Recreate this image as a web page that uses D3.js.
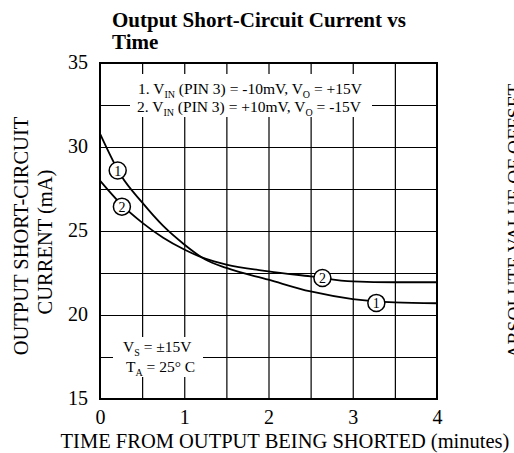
<!DOCTYPE html>
<html>
<head>
<meta charset="utf-8">
<script src="https://cdn.jsdelivr.net/npm/d3@7"></script>
<style>
    body { margin: 0; background: #fff; }
    text { font-family: "Liberation Serif", "Times New Roman", serif; fill: #000; }
</style>
</head>
<body>
<div id="canvas"></div>
<script>
"use strict"

/* Chart data */
let timeMinutes = [0, 0.25, 0.5, 0.75, 1, 1.25, 1.5, 2, 2.5, 3, 3.5, 4];
let currentCurve1 = [30.8, 28.3, 26.7, 25.3, 24.2, 23.3, 22.8, 22.1, 21.4, 20.95, 20.75, 20.7];
let currentCurve2 = [28.0, 26.6, 25.5, 24.6, 23.9, 23.35, 23.0, 22.6, 22.3, 22.0, 21.95, 21.95];

let xTickLabels = [0, 1, 2, 3, 4];
let yTickLabels = [15, 20, 25, 30, 35];
let xGridValues = [0.5, 1, 1.5, 2, 2.5, 3, 3.5];
let yGridValues = [17.5, 20, 22.5, 25, 27.5, 30, 32.5];

let markerNames = ["1", "1", "2", "2"];
let markerTimes = [0.21, 3.28, 0.26, 2.64];
let markerValues = [28.6, 20.72, 26.45, 22.2];

/* Drawing config */
let svgWidth = 514;
let svgHeight = 453;
let plotLeft = 100, plotRight = 437, plotTop = 63, plotBottom = 399;

let svg = d3.select("#canvas")
    .append("svg")
    .attr("width", svgWidth)
    .attr("height", svgHeight);

let xScale = d3.scaleLinear()
    .domain([0, 4])
    .range([plotLeft, plotRight]);

let yScale = d3.scaleLinear()
    .domain([15, 35])
    .range([plotBottom, plotTop]);

/* grid */
svg.append("g")
    .attr("transform", "translate(0," + plotBottom + ")")
    .call(d3.axisBottom(xScale).tickValues(xGridValues).tickSize(-(plotBottom - plotTop)).tickFormat(""))
    .call(g => g.select(".domain").remove())
    .selectAll("line").attr("stroke", "#000").attr("stroke-width", 1.2);

svg.append("g")
    .attr("transform", "translate(" + plotLeft + ",0)")
    .call(d3.axisLeft(yScale).tickValues(yGridValues).tickSize(-(plotRight - plotLeft)).tickFormat(""))
    .call(g => g.select(".domain").remove())
    .selectAll("line").attr("stroke", "#000").attr("stroke-width", 1.2);

/* white boxes behind the notes */
svg.append("rect")
    .attr("x", 130).attr("y", 74)
    .attr("width", 242).attr("height", 43)
    .attr("fill", "#fff");

svg.append("rect")
    .attr("x", 113).attr("y", 337)
    .attr("width", 90).attr("height", 40)
    .attr("fill", "#fff");

/* curves */
let line = d3.line()
    .x((d, i) => xScale(timeMinutes[i]))
    .y(d => yScale(d))
    .curve(d3.curveMonotoneX);

[currentCurve1, currentCurve2].forEach(series => {
    svg.append("path")
        .attr("d", line(series))
        .attr("fill", "none")
        .attr("stroke", "#000")
        .attr("stroke-width", 1.8);
});

/* curve markers */
let markers = svg.selectAll("g.marker")
    .data(markerNames)
    .join("g")
    .attr("class", "marker")
    .attr("transform", (d, i) => "translate(" + xScale(markerTimes[i]) + "," + yScale(markerValues[i]) + ")");

markers.append("circle")
    .attr("r", 8.5)
    .attr("fill", "#fff")
    .attr("stroke", "#000")
    .attr("stroke-width", 1.5);

markers.append("text")
    .attr("text-anchor", "middle")
    .attr("y", 5)
    .attr("font-size", 14)
    .text(d => d);

/* plot border */
svg.append("rect")
    .attr("x", plotLeft)
    .attr("y", plotTop)
    .attr("width", plotRight - plotLeft)
    .attr("height", plotBottom - plotTop)
    .attr("fill", "none")
    .attr("stroke", "#000")
    .attr("stroke-width", 2);

/* tick labels */
svg.append("g")
    .attr("transform", "translate(0," + plotBottom + ")")
    .call(d3.axisBottom(xScale).tickValues(xTickLabels).tickFormat(d3.format("d")).tickSize(0).tickPadding(11))
    .call(g => g.select(".domain").remove())
    .selectAll("text")
    .attr("font-family", "Liberation Serif, Times New Roman, serif")
    .attr("font-size", 20)
    .attr("dy", "0.71em");

svg.append("g")
    .attr("transform", "translate(" + plotLeft + ",0)")
    .call(d3.axisLeft(yScale).tickValues(yTickLabels).tickSize(0).tickPadding(12))
    .call(g => g.select(".domain").remove())
    .selectAll("text")
    .attr("font-family", "Liberation Serif, Times New Roman, serif")
    .attr("font-size", 20)
    .attr("dy", "0.25em");

/* title */
svg.append("text")
    .attr("x", 112).attr("y", 27)
    .attr("font-size", 21).attr("font-weight", "bold")
    .text("Output Short-Circuit Current vs");
svg.append("text")
    .attr("x", 112).attr("y", 49)
    .attr("font-size", 21).attr("font-weight", "bold")
    .text("Time");

/* axis titles */
svg.append("text")
    .attr("x", 285).attr("y", 448)
    .attr("text-anchor", "middle")
    .attr("font-size", 20.5)
    .text("TIME FROM OUTPUT BEING SHORTED (minutes)");

let yTitle = svg.append("text")
    .attr("transform", "translate(0,236) rotate(-90)")
    .attr("text-anchor", "middle")
    .attr("font-size", 20.5);
yTitle.append("tspan").attr("x", 0).attr("y", 28).text("OUTPUT SHORT-CIRCUIT");
yTitle.append("tspan").attr("x", -6).attr("y", 52).text("CURRENT (mA)");

/* neighbour label, cut by the right edge as in the source page */
svg.append("text")
    .attr("transform", "translate(521,221) rotate(-90)")
    .attr("text-anchor", "middle")
    .attr("font-size", 19.5)
    .text("ABSOLUTE VALUE OF OFFSET");

/* condition notes */
function noteLine(x, y, parts) {
    let t = svg.append("text").attr("x", x).attr("y", y).attr("font-size", 15.5);
    parts.forEach(p => {
        if (p.sub) {
            t.append("tspan").attr("font-size", 10).attr("dy", 4).text(p.sub);
        } else {
            t.append("tspan").attr("dy", p.up ? -4 : 0).text(p.txt);
        }
    });
}

noteLine(138, 94, [{ txt: "1. V" }, { sub: "IN" }, { txt: " (PIN 3) = -10mV, V", up: true }, { sub: "O" }, { txt: " = +15V", up: true }]);
noteLine(137, 112, [{ txt: "2. V" }, { sub: "IN" }, { txt: " (PIN 3) = +10mV, V", up: true }, { sub: "O" }, { txt: " = -15V", up: true }]);
noteLine(123, 352, [{ txt: "V" }, { sub: "S" }, { txt: " = ±15V", up: true }]);
noteLine(126, 372, [{ txt: "T" }, { sub: "A" }, { txt: " = 25° C", up: true }]);
</script>
</body>
</html>
